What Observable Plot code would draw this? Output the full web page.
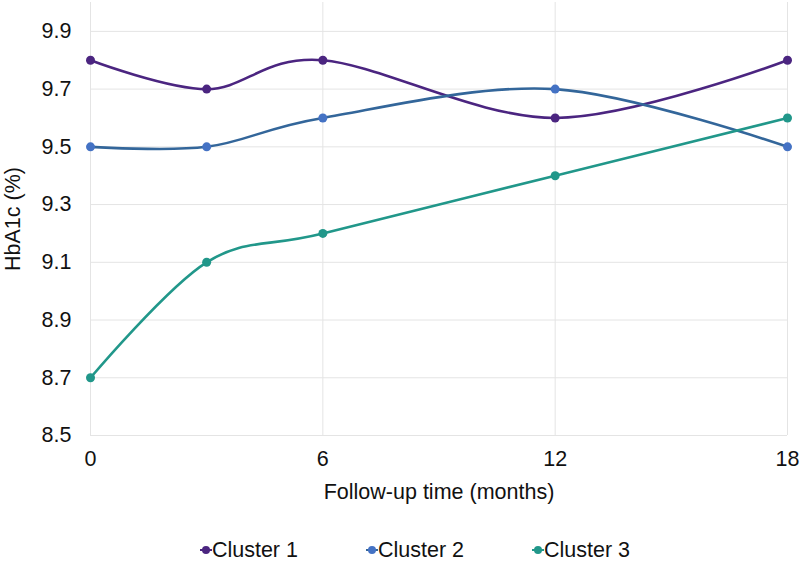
<!DOCTYPE html>
<html>
<head>
<meta charset="utf-8">
<script src="https://cdn.jsdelivr.net/npm/d3@7"></script>
<script src="https://cdn.jsdelivr.net/npm/@observablehq/plot@0.6"></script>
<style>
  html, body { margin: 0; padding: 0; background: #fff; }
  body { width: 800px; height: 568px; overflow: hidden; font-family: "Liberation Sans", Arial, sans-serif; }
  #legend { display: flex; justify-content: center; align-items: center; height: 48px; font-size: 21.5px; color: #111; padding-left: 30px; padding-top: 12px; box-sizing: border-box; }
  .item { display: flex; align-items: center; margin: 0 34px; }
  .item svg { margin-right: 0px; }
</style>
</head>
<body>
<div id="chart"></div>
<div id="legend"></div>
<script>
const months = [0, 3, 6, 12, 18];
const seriesNames = ["Cluster 1", "Cluster 2", "Cluster 3"];
const cluster1 = [9.8, 9.7, 9.8, 9.6, 9.8];
const cluster2 = [9.5, 9.5, 9.6, 9.7, 9.5];
const cluster3 = [8.7, 9.1, 9.2, 9.4, 9.6];
const lineColors = ["#4b2580", "#33669a", "#21978a"];
const dotColors = ["#4b2580", "#4472c4", "#21978a"];
const yTicks = [8.5, 8.7, 8.9, 9.1, 9.3, 9.5, 9.7, 9.9];
const xTicks = [0, 6, 12, 18];

const values = [cluster1, cluster2, cluster3];
const data = [];
seriesNames.forEach((s, i) => months.forEach((m, j) => data.push({series: s, month: m, value: values[i][j]})));

const chart = Plot.plot({
  width: 800,
  height: 520,
  marginLeft: 90,
  marginRight: 13,
  marginTop: 2,
  marginBottom: 85,
  style: {fontFamily: "Liberation Sans, Arial, sans-serif", fontSize: "21.5px", color: "#111", background: "#fff"},
  x: {domain: [0, 18]},
  y: {domain: [8.5, 10.0]},
  color: {domain: seriesNames, range: lineColors},
  marks: [
    Plot.gridY(yTicks, {stroke: "#e4e4e4", strokeOpacity: 1, strokeWidth: 1}),
    Plot.gridX(xTicks, {stroke: "#e4e4e4", strokeOpacity: 1, strokeWidth: 1}),
    Plot.axisY(yTicks, {tickSize: 0, tickPadding: 19, fontSize: 21.5, tickFormat: d => d.toFixed(1), label: "HbA1c (%)", labelAnchor: "center", labelArrow: "none", labelOffset: 86}),
    Plot.axisX(xTicks, {tickSize: 0, tickPadding: 15, fontSize: 21.5, label: "Follow-up time (months)", labelAnchor: "center", labelArrow: "none", labelOffset: 63}),
    Plot.line(data, {x: "month", y: "value", z: "series", stroke: "series", strokeWidth: 2.6, curve: "catmull-rom", tension: 0}),
    Plot.dot(data, {x: "month", y: "value", fill: d => dotColors[seriesNames.indexOf(d.series)], r: 4.5, stroke: "none"})
  ]
});
document.getElementById("chart").appendChild(chart);

const legend = document.getElementById("legend");
seriesNames.forEach((s, i) => {
  const item = document.createElement("div");
  item.className = "item";
  item.innerHTML = `<svg width="12" height="12"><line x1="0" y1="6" x2="12" y2="6" stroke="${lineColors[i]}" stroke-width="2"/><circle cx="6" cy="6" r="4" fill="${dotColors[i]}"/></svg><span>${s}</span>`;
  legend.appendChild(item);
});
</script>
</body>
</html>
